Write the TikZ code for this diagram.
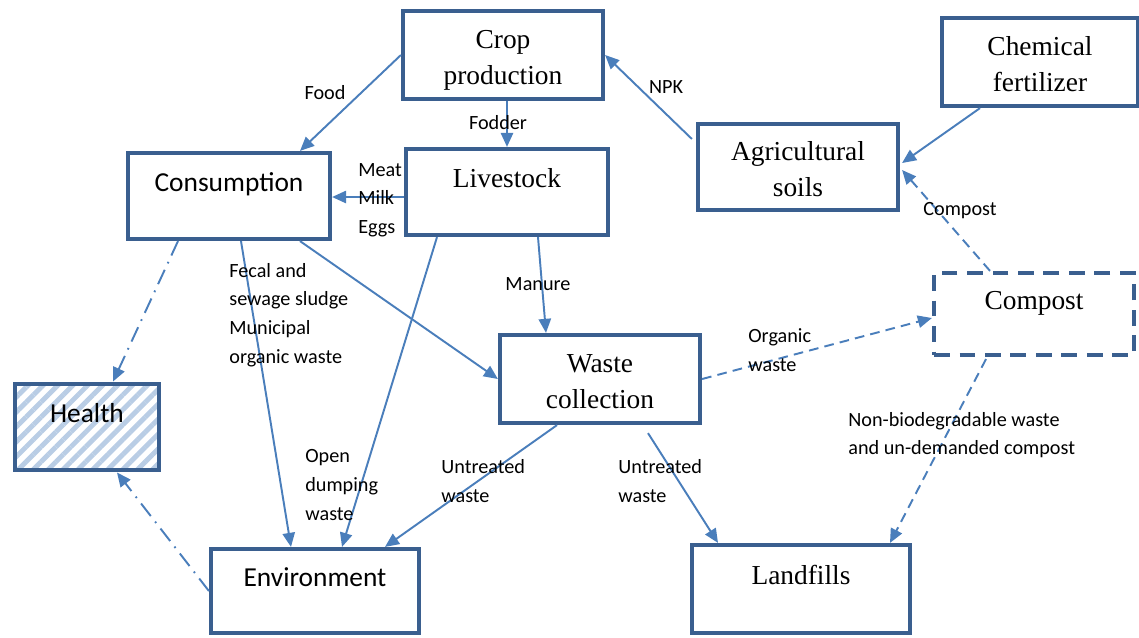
\documentclass[tikz,border=0pt]{standalone}
\usepackage{fontspec}
\setmainfont{Liberation Serif}
\newfontfamily\calib{Carlito}
\usetikzlibrary{arrows.meta,calc,patterns.meta}
\definecolor{boxblue}{HTML}{3A5F8F}
\definecolor{arrblue}{HTML}{4A7EBB}
\definecolor{hatchblue}{HTML}{B9CDE5}

\begin{document}
\begin{tikzpicture}[x=0.02cm, y=-0.02cm,
  box/.style={draw=boxblue, line width=2.4pt, rectangle, align=center, inner sep=2pt,
    font=\fontsize{15.6}{20.6}\selectfont},
  sbox/.style={box, font=\calib\fontsize{15.6}{20}\selectfont},
  up/.style={text height=11pt, text depth=15.6pt},
  two/.style={text height=34pt, text depth=0pt},
  lbl/.style={font=\calib\fontsize{11.5}{16.3}\selectfont, inner sep=0pt, align=left},
  flow/.style={draw=arrblue, line width=1.1pt, -{Triangle[length=8pt,width=7pt]}},
  dflow/.style={flow, dash pattern=on 5.5pt off 3.5pt},
  ddflow/.style={flow, dash pattern=on 9pt off 4pt on 1pt off 4pt}]
  \useasboundingbox (0,0) rectangle (1139,637);

  % boxes
  \node[box, two, minimum width=4cm, minimum height=1.76cm] (crop) at (503,55) {Crop\\production};
  \node[box, two, minimum width=3.92cm, minimum height=1.76cm] (chem) at (1040,62) {Chemical\\fertilizer};
  \node[box, two, minimum width=4cm, minimum height=1.72cm] (soils) at (798,167) {Agricultural\\soils};
  \node[sbox, up, minimum width=4.04cm, minimum height=1.72cm] (cons) at (229,196) {Consumption};
  \node[box, up, minimum width=4.04cm, minimum height=1.72cm] (live) at (507,192) {Livestock};
  \node[box, up, dash pattern=on 9pt off 5.5pt, minimum width=4cm, minimum height=1.64cm] (compost) at (1034,314) {Compost};
  \node[box, two, minimum width=4cm, minimum height=1.76cm] (waste) at (600,379) {Waste\\collection};
  \node[sbox, up, pattern={Lines[angle=45,distance=6pt,line width=2.8pt]}, pattern color=hatchblue,
    minimum width=2.88cm, minimum height=1.72cm] (health) at (87,427) {Health};
  \node[sbox, up, minimum width=4.16cm, minimum height=1.68cm] (env) at (315,591) {Environment};
  \node[box, up, minimum width=4.36cm, minimum height=1.76cm] (land) at (801,589) {Landfills};

  % flows
  \draw[flow] (crop.west) -- ($(cons.north)+(71,0)$);
  \draw[flow] (live.north |- crop.south) -- (live.north);
  \draw[flow] ($(soils.west)+(-4,-28)$) -- (crop.east);
  \draw[flow] ($(chem.south)+(-60,0)$) -- ($(soils.east)+(2,-4)$);
  \draw[dflow] ($(compost.north)+(-44,0)$) -- ($(soils.east)+(2,3)$);
  \draw[flow] ($(live.west)+(0,5)$) -- ($(cons.east)+(0,1)$);
  \draw[flow] ($(cons.south)+(12,0)$) -- ($(env.north)+(-24,0)$);
  \draw[flow] ($(cons.south)+(71,0)$) -- (waste.west);
  \draw[flow] ($(live.south)+(-70,0)$) -- ($(env.north)+(27,0)$);
  \draw[flow] ($(live.south)+(31,0)$) -- ($(waste.north)+(-54,0)$);
  \draw[flow] ($(waste.south)+(-43,0)$) -- ($(env.north)+(70,0)$);
  \draw[flow] ($(waste.south)+(48,8)$) -- ($(land.north)+(-83,0)$);
  \draw[dflow] (waste.east) -- ($(compost.west)+(0,4)$);
  \draw[dflow] ($(compost.south)+(-48,2)$) -- ($(land.north)+(89,0)$);
  \draw[ddflow] ($(cons.south)+(-51,0)$) -- ($(health.north)+(26,0)$);
  \draw[ddflow] (env.west) -- ($(health.south)+(30,0)$);

  % labels
  \node[lbl] (lfood) at (325,93) {Food};
  \node[lbl] (lfodder) at (498,123) {Fodder};
  \node[lbl] (lnpk) at (666,87) {NPK};
  \node[lbl] (lcompost) at (960,211) {Compost};
  \node[lbl, anchor=west] (lmeat) at (358,200) {Meat\\Milk\\Eggs};
  \node[lbl, anchor=west] (lfecal) at (229,315) {Fecal and\\sewage sludge\\Municipal\\organic waste};
  \node[lbl, anchor=west] (lopen) at (305,485) {Open\\dumping\\waste};
  \node[lbl] (lmanure) at (538,284) {Manure};
  \node[lbl, anchor=west] (luntr1) at (441,481) {Untreated\\waste};
  \node[lbl, anchor=west] (luntr2) at (618,481) {Untreated\\waste};
  \node[lbl, anchor=west] (lorg) at (748,350) {Organic\\waste};
  \node[lbl, anchor=west] (lnonbio) at (848,435) {Non-biodegradable waste\\and un-demanded compost};
\end{tikzpicture}
\end{document}
